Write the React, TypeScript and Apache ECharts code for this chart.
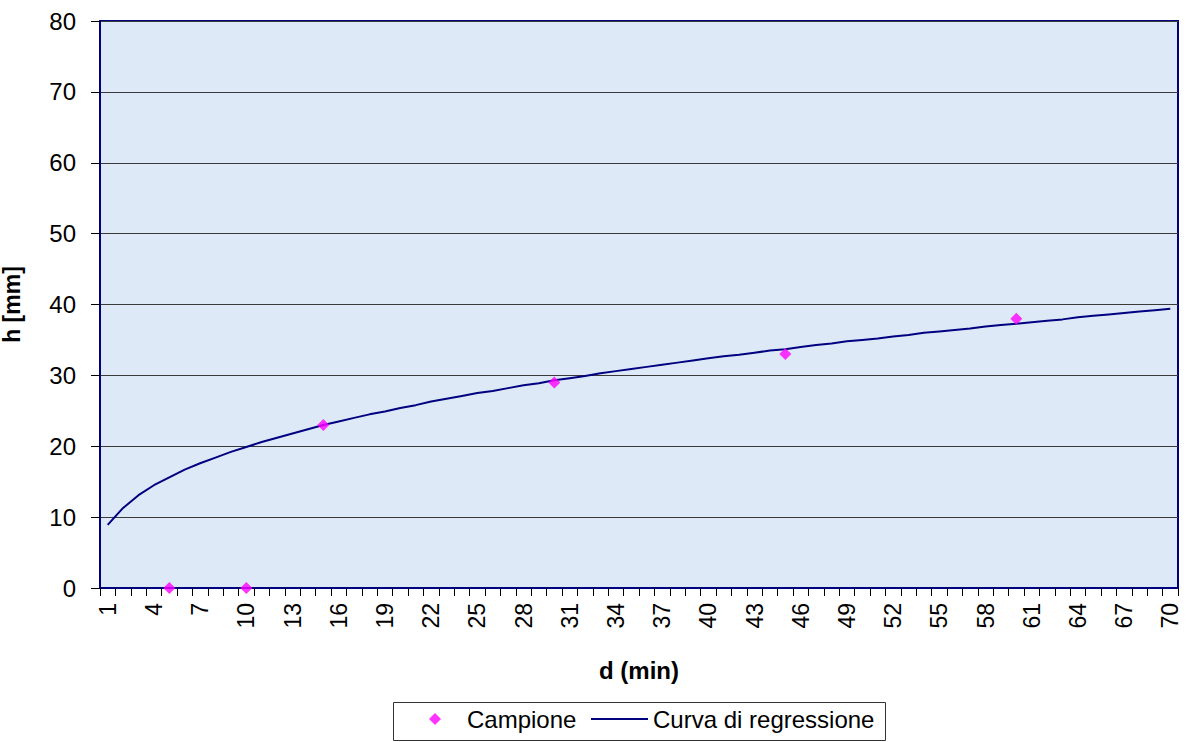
import React, { useEffect, useRef } from "react";
import * as echarts from "echarts";

const minutes: string[] = Array.from({ length: 70 }, (_, i) => String(i + 1));

// Sample points (Campione): [minute, h]
const sampleMinutes = ["5", "10", "15", "30", "45", "60"];
const sampleValues = [0, 0, 23, 29, 33, 38];

// Regression curve values, one per minute 1..70
const regression = [
  8.9, 11.3, 13.1, 14.5, 15.6, 16.7, 17.6, 18.4, 19.2, 19.9,
  20.6, 21.2, 21.8, 22.4, 23.0, 23.5, 24.0, 24.5, 24.9, 25.4,
  25.8, 26.3, 26.7, 27.1, 27.5, 27.8, 28.2, 28.6, 28.9, 29.3,
  29.6, 29.9, 30.3, 30.6, 30.9, 31.2, 31.5, 31.8, 32.1, 32.4,
  32.7, 32.9, 33.2, 33.5, 33.7, 34.0, 34.3, 34.5, 34.8, 35.0,
  35.2, 35.5, 35.7, 36.0, 36.2, 36.4, 36.6, 36.9, 37.1, 37.3,
  37.5, 37.7, 37.9, 38.2, 38.4, 38.6, 38.8, 39.0, 39.2, 39.4,
];

const yTicks = { min: 0, max: 80, interval: 10 };

const FONT = "'Liberation Sans', Arial, sans-serif";

export default function App() {
  const ref = useRef<HTMLDivElement>(null);
  useEffect(() => {
    if (!ref.current) return;
    const chart = echarts.init(ref.current, undefined, { renderer: "svg" });
    chart.setOption({
      animation: false,
      backgroundColor: "#ffffff",
      textStyle: { fontFamily: FONT },
      grid: {
        left: 100,
        right: 15,
        top: 21,
        bottom: 154,
        show: true,
        backgroundColor: "#dde9f7",
        borderColor: "#000080",
        borderWidth: 2,
        outerBoundsMode: "none",
        containLabel: false,
      },
      graphic: [
        {
          type: "rect",
          left: 393,
          top: 702,
          shape: { width: 492, height: 38 },
          style: { fill: "#ffffff", stroke: "#333333", lineWidth: 1 },
          z: -1,
        },
      ],
      legend: [
        {
          left: 429,
          top: 707,
          padding: 0,
          itemWidth: 12,
          itemHeight: 12,
          textStyle: { fontSize: 24, color: "#000", fontFamily: FONT, padding: [0, 0, 0, 21] },
          data: [{ name: "Campione", icon: "diamond" }],
        },
        {
          left: 591,
          top: 707,
          padding: 0,
          itemWidth: 57,
          itemHeight: 2,
          textStyle: { fontSize: 24, color: "#000", fontFamily: FONT },
          data: [{ name: "Curva di regressione", icon: "rect" }],
        },
      ],
      xAxis: {
        type: "category",
        data: minutes,
        boundaryGap: true,
        name: "d (min)",
        nameLocation: "middle",
        nameGap: 70,
        nameTextStyle: { fontSize: 24, fontWeight: "bold", color: "#000", fontFamily: FONT },
        axisLine: { show: true, lineStyle: { color: "#000080", width: 2 } },
        axisTick: { show: true, interval: 0, length: 8, lineStyle: { color: "#000" } },
        axisLabel: {
          interval: 2,
          rotate: 90,
          margin: 15,
          fontSize: 23,
          color: "#000",
          fontFamily: FONT,
        },
        splitLine: { show: false },
      },
      yAxis: {
        type: "value",
        min: yTicks.min,
        max: yTicks.max,
        interval: yTicks.interval,
        name: "h [mm]",
        nameLocation: "middle",
        nameGap: 77,
        nameTextStyle: { fontSize: 23, fontWeight: "bold", color: "#000", fontFamily: FONT },
        axisLine: { show: true, lineStyle: { color: "#000080", width: 2 } },
        axisTick: { show: true, length: 9, lineStyle: { color: "#000" } },
        axisLabel: { fontSize: 24, color: "#000", margin: 24, fontFamily: FONT },
        splitLine: { show: true, lineStyle: { color: "#3a3a3a", width: 1 } },
      },
      series: [
        {
          name: "Campione",
          type: "scatter",
          symbol: "diamond",
          symbolSize: 12,
          itemStyle: { color: "#ff00ff" },
          data: sampleMinutes.map((m, i) => [m, sampleValues[i]]),
          z: 3,
        },
        {
          name: "Curva di regressione",
          type: "line",
          symbol: "none",
          lineStyle: { color: "#000080", width: 2 },
          itemStyle: { color: "#000080" },
          data: regression,
          z: 2,
        },
      ],
    });
    return () => chart.dispose();
  }, []);
  return (
    <div
      ref={ref}
      style={{ position: "absolute", left: 0, top: 0, width: 1193, height: 742 }}
    />
  );
}
